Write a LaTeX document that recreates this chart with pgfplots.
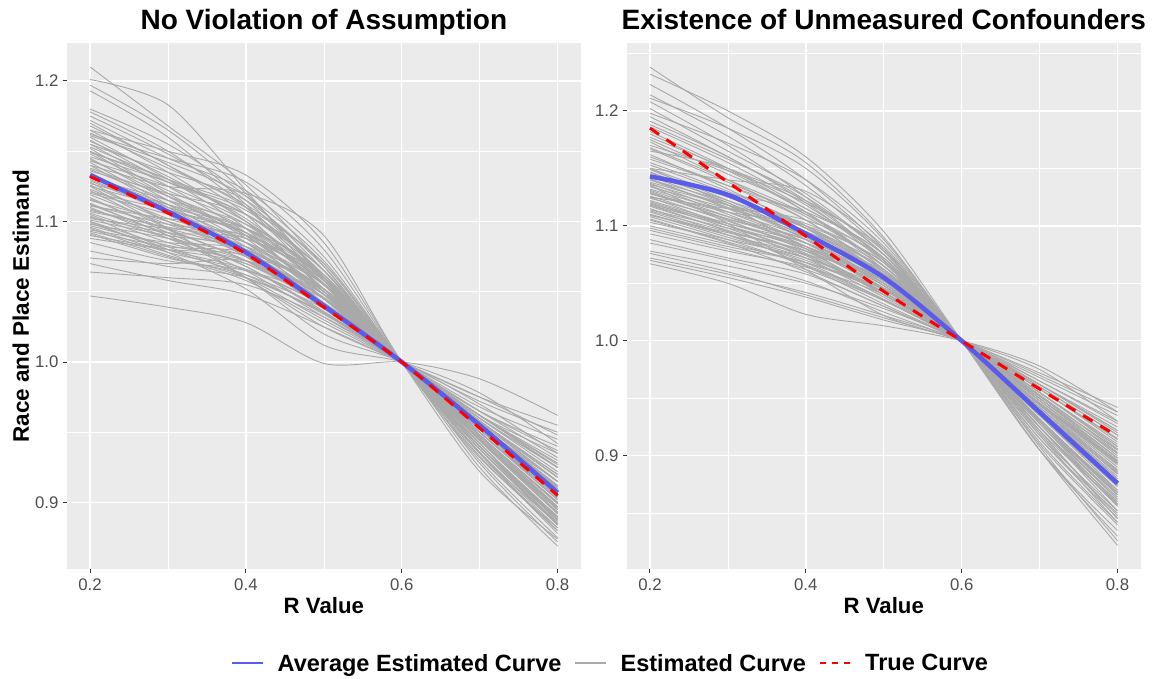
\documentclass[border=0pt]{standalone}
\usepackage{pgfplots}
\pgfplotsset{compat=1.18}
\usepackage{fontspec}
\setmainfont{Liberation Sans}

\definecolor{panelbg}{HTML}{EBEBEB}
\definecolor{estgrey}{HTML}{A9A9A9}
\definecolor{avgblue}{RGB}{90,90,235}
\definecolor{tickgrey}{HTML}{4D4D4D}
\definecolor{tickmark}{HTML}{333333}

% one estimated curve: values at R = 0.2,0.3,0.4,0.5,(0.6 -> 1),0.7,0.8
\newcommand{\est}[6]{\addplot[estc] coordinates {(0.2,#1) (0.3,#2) (0.4,#3) (0.5,#4) (0.6,1) (0.7,#5) (0.8,#6)};}

\pgfplotsset{
  estc/.style={estgrey, line width=0.9pt, smooth, no markers, forget plot},
  avgc/.style={avgblue, line width=4.5pt, smooth, no markers, forget plot},
  truec/.style={red, line width=3pt, dash pattern=on 11pt off 9pt, smooth, no markers, forget plot},
  gg/.style={
    scale only axis, width=514.3pt, height=526pt,
    xmin=0.17, xmax=0.83,
    axis background/.style={fill=panelbg},
    axis line style={draw=none},
    xtick={0.2,0.4,0.6,0.8}, minor xtick={0.3,0.5,0.7},
    grid=both,
    major grid style={white, line width=1.4pt},
    minor grid style={white, line width=0.7pt},
    tick align=outside, tick pos=left,
    major tick length=4pt, minor tick length=0pt,
    every tick/.style={tickmark, line width=1pt},
    tick label style={font=\fontsize{16.8}{18}\selectfont, text=tickgrey, inner sep=0pt},
    xticklabel style={yshift=-5pt},
    yticklabel style={xshift=-4pt},
    xticklabel={\pgfmathprintnumber[fixed, fixed zerofill, precision=1]{\tick}},
    yticklabel={\pgfmathprintnumber[fixed, fixed zerofill, precision=1]{\tick}},
    /pgf/number format/assume math mode=true,
    title style={font=\bfseries\fontsize{28}{30}\selectfont, at={(0.5,1)}, anchor=base, yshift=7.3pt},
    xlabel={R Value},
    xlabel style={font=\bfseries\fontsize{22.2}{24}\selectfont, at={(axis description cs:0.5,0)}, anchor=base, yshift=-44pt},
  }
}

\begin{document}
\begin{tikzpicture}
\useasboundingbox (0,0) rectangle (1153pt,679pt);

% ---------------- left panel ----------------
\begin{axis}[gg, at={(66.7pt,109.7pt)}, anchor=south west,
  ymin=0.8525, ymax=1.2268,
  ytick={0.9,1.0,1.1,1.2}, minor ytick={0.95,1.05,1.15},
  title={No Violation of Assumption},
  ylabel={Race and Place Estimand},
  ylabel style={font=\bfseries\fontsize{22.5}{24}\selectfont, at={(axis description cs:0,0.5)}, anchor=base, yshift=37.7pt},
  legend columns=3,
  legend cell align=left,
  legend image code/.code={\draw[line width=1.6pt, #1] (0pt,0pt) -- (31pt,0pt);},
  legend style={at={(axis description cs:0.3206,-0.1787)}, anchor=west, draw=none, fill=none,
    inner sep=0pt, outer sep=0pt,
    font=\bfseries\fontsize{23.5}{25}\selectfont,
    nodes={inner sep=0pt},
    /tikz/every odd column/.append style={column sep=13.5pt},
    /tikz/every even column/.append style={column sep=13pt}},
]
\addlegendimage{draw=avgblue}
\addlegendentry{Average Estimated Curve}
\addlegendimage{draw=estgrey}
\addlegendentry{Estimated Curve}
\addlegendimage{draw=red, dash pattern=on 6.5pt off 5.5pt}
\addlegendentry{True Curve}

\est{1.210}{1.168}{1.126}{1.068}{0.945}{0.895}
\est{1.201}{1.183}{1.122}{1.058}{0.950}{0.905}
\est{1.197}{1.165}{1.120}{1.060}{0.948}{0.900}
\est{1.193}{1.160}{1.112}{1.058}{0.952}{0.910}
\est{1.180}{1.155}{1.118}{1.065}{0.940}{0.885}
\est{1.178}{1.150}{1.110}{1.055}{0.955}{0.915}
\est{1.172}{1.145}{1.122}{1.075}{0.935}{0.880}
\est{1.168}{1.140}{1.105}{1.050}{0.960}{0.925}
\est{1.165}{1.135}{1.100}{1.060}{0.945}{0.893}
\est{1.162}{1.145}{1.128}{1.080}{0.930}{0.875}
\est{1.160}{1.130}{1.095}{1.045}{0.962}{0.930}
\est{1.158}{1.128}{1.105}{1.065}{0.940}{0.890}
\est{1.155}{1.125}{1.092}{1.048}{0.955}{0.910}
\est{1.153}{1.130}{1.110}{1.070}{0.935}{0.885}
\est{1.150}{1.118}{1.088}{1.045}{0.958}{0.920}
\est{1.148}{1.122}{1.098}{1.055}{0.950}{0.905}
\est{1.145}{1.115}{1.085}{1.042}{0.962}{0.935}
\est{1.143}{1.125}{1.100}{1.060}{0.945}{0.897}
\est{1.140}{1.110}{1.080}{1.040}{0.955}{0.915}
\est{1.138}{1.118}{1.095}{1.052}{0.948}{0.900}
\est{1.135}{1.105}{1.075}{1.038}{0.965}{0.940}
\est{1.132}{1.112}{1.090}{1.050}{0.952}{0.908}
\est{1.128}{1.100}{1.078}{1.045}{0.950}{0.903}
\est{1.125}{1.110}{1.095}{1.060}{0.940}{0.888}
\est{1.122}{1.095}{1.072}{1.040}{0.958}{0.918}
\est{1.120}{1.105}{1.085}{1.052}{0.945}{0.893}
\est{1.117}{1.092}{1.068}{1.035}{0.962}{0.928}
\est{1.115}{1.100}{1.082}{1.048}{0.948}{0.899}
\est{1.112}{1.098}{1.090}{1.060}{0.938}{0.886}
\est{1.110}{1.088}{1.065}{1.032}{0.965}{0.937}
\est{1.108}{1.095}{1.078}{1.045}{0.952}{0.906}
\est{1.105}{1.085}{1.070}{1.040}{0.957}{0.915}
\est{1.103}{1.092}{1.088}{1.058}{0.935}{0.878}
\est{1.100}{1.082}{1.060}{1.030}{0.968}{0.945}
\est{1.098}{1.088}{1.075}{1.045}{0.950}{0.902}
\est{1.096}{1.078}{1.065}{1.040}{0.955}{0.911}
\est{1.094}{1.085}{1.080}{1.050}{0.942}{0.890}
\est{1.092}{1.075}{1.058}{1.028}{0.972}{0.950}
\est{1.090}{1.080}{1.070}{1.042}{0.948}{0.897}
\est{1.079}{1.068}{1.060}{1.035}{0.960}{0.922}
\est{1.074}{1.070}{1.072}{1.048}{0.945}{0.892}
\est{1.070}{1.058}{1.048}{1.025}{0.975}{0.955}
\est{1.064}{1.060}{1.055}{1.032}{0.962}{0.925}
\est{1.047}{1.039}{1.028}{0.999}{0.988}{0.962}
\est{1.150}{1.128}{1.108}{1.065}{0.925}{0.869}
\est{1.130}{1.108}{1.092}{1.058}{0.928}{0.872}
\est{1.165}{1.150}{1.133}{1.085}{0.922}{0.874}
\est{1.140}{1.125}{1.120}{1.090}{0.932}{0.882}
\est{1.085}{1.072}{1.065}{1.045}{0.958}{0.918}
\est{1.100}{1.078}{1.052}{1.012}{0.978}{0.942}
\est{1.112}{1.090}{1.060}{1.020}{0.970}{0.935}
\est{1.125}{1.095}{1.060}{1.025}{0.975}{0.948}
\est{1.170}{1.140}{1.110}{1.062}{0.945}{0.895}
\est{1.163}{1.138}{1.112}{1.070}{0.938}{0.884}
\est{1.157}{1.132}{1.100}{1.052}{0.952}{0.908}
\est{1.152}{1.120}{1.090}{1.048}{0.955}{0.912}
\est{1.146}{1.128}{1.105}{1.062}{0.940}{0.888}
\est{1.142}{1.112}{1.082}{1.045}{0.958}{0.920}
\est{1.137}{1.115}{1.092}{1.055}{0.945}{0.896}
\est{1.133}{1.110}{1.085}{1.048}{0.952}{0.905}
\est{1.129}{1.106}{1.080}{1.042}{0.956}{0.912}
\est{1.126}{1.102}{1.088}{1.058}{0.942}{0.889}
\est{1.123}{1.100}{1.075}{1.038}{0.960}{0.925}
\est{1.119}{1.098}{1.080}{1.050}{0.946}{0.897}
\est{1.116}{1.094}{1.072}{1.040}{0.958}{0.918}
\est{1.113}{1.090}{1.068}{1.036}{0.962}{0.927}
\est{1.109}{1.092}{1.080}{1.052}{0.944}{0.892}
\est{1.106}{1.088}{1.072}{1.042}{0.952}{0.904}
\est{1.104}{1.080}{1.062}{1.034}{0.965}{0.932}
\est{1.101}{1.090}{1.082}{1.055}{0.940}{0.884}
\est{1.099}{1.080}{1.066}{1.040}{0.955}{0.910}
\est{1.097}{1.083}{1.072}{1.046}{0.948}{0.900}
\est{1.095}{1.076}{1.060}{1.035}{0.962}{0.925}
\est{1.093}{1.082}{1.078}{1.052}{0.942}{0.888}
\est{1.091}{1.074}{1.062}{1.038}{0.958}{0.915}
\est{1.175}{1.148}{1.115}{1.060}{0.950}{0.905}
\est{1.161}{1.142}{1.118}{1.072}{0.933}{0.880}
\est{1.155}{1.135}{1.115}{1.068}{0.940}{0.890}
\est{1.149}{1.130}{1.102}{1.058}{0.948}{0.900}
\est{1.144}{1.118}{1.090}{1.050}{0.955}{0.912}
\est{1.136}{1.120}{1.105}{1.065}{0.936}{0.882}
\est{1.131}{1.115}{1.098}{1.062}{0.944}{0.893}
\est{1.127}{1.112}{1.095}{1.056}{0.950}{0.902}
\est{1.121}{1.108}{1.092}{1.055}{0.947}{0.897}
\est{1.111}{1.102}{1.095}{1.062}{0.938}{0.885}
\est{1.107}{1.096}{1.085}{1.055}{0.945}{0.895}
\est{1.102}{1.095}{1.090}{1.060}{0.940}{0.887}
\est{1.088}{1.080}{1.076}{1.052}{0.950}{0.905}

\addplot[avgc] coordinates {(0.2,1.133) (0.3,1.107) (0.4,1.078) (0.5,1.040) (0.6,1.0) (0.7,0.955) (0.8,0.907)};
\addplot[truec] coordinates {(0.2,1.132) (0.3,1.106) (0.4,1.077) (0.5,1.039) (0.6,1.0) (0.7,0.953) (0.8,0.905)};
\end{axis}

% ---------------- right panel ----------------
\begin{axis}[gg, at={(626.6pt,109.7pt)}, anchor=south west,
  ymin=0.8012, ymax=1.2588,
  ytick={0.9,1.0,1.1,1.2}, minor ytick={0.85,0.95,1.05,1.15,1.25},
  title={Existence of Unmeasured Confounders},
]
\est{1.238}{1.194}{1.155}{1.090}{0.915}{0.850}
\est{1.232}{1.200}{1.160}{1.095}{0.905}{0.835}
\est{1.223}{1.185}{1.140}{1.080}{0.925}{0.860}
\est{1.214}{1.178}{1.135}{1.078}{0.918}{0.852}
\est{1.211}{1.185}{1.150}{1.088}{0.910}{0.840}
\est{1.208}{1.170}{1.125}{1.070}{0.930}{0.870}
\est{1.202}{1.165}{1.128}{1.075}{0.922}{0.858}
\est{1.198}{1.172}{1.140}{1.085}{0.905}{0.830}
\est{1.191}{1.160}{1.120}{1.068}{0.935}{0.878}
\est{1.186}{1.155}{1.118}{1.072}{0.928}{0.864}
\est{1.182}{1.150}{1.112}{1.062}{0.940}{0.885}
\est{1.177}{1.150}{1.122}{1.078}{0.915}{0.846}
\est{1.173}{1.140}{1.105}{1.060}{0.945}{0.892}
\est{1.170}{1.148}{1.120}{1.080}{0.912}{0.842}
\est{1.167}{1.138}{1.108}{1.065}{0.935}{0.873}
\est{1.160}{1.135}{1.105}{1.060}{0.940}{0.882}
\est{1.155}{1.130}{1.100}{1.058}{0.942}{0.888}
\est{1.150}{1.125}{1.098}{1.062}{0.932}{0.868}
\est{1.147}{1.120}{1.090}{1.050}{0.950}{0.902}
\est{1.144}{1.122}{1.098}{1.065}{0.925}{0.856}
\est{1.141}{1.115}{1.085}{1.048}{0.948}{0.898}
\est{1.138}{1.118}{1.095}{1.058}{0.938}{0.876}
\est{1.135}{1.110}{1.082}{1.045}{0.952}{0.905}
\est{1.132}{1.112}{1.090}{1.060}{0.930}{0.862}
\est{1.130}{1.105}{1.078}{1.042}{0.955}{0.910}
\est{1.128}{1.108}{1.088}{1.055}{0.940}{0.880}
\est{1.125}{1.100}{1.075}{1.040}{0.958}{0.915}
\est{1.122}{1.102}{1.082}{1.050}{0.944}{0.890}
\est{1.120}{1.098}{1.072}{1.038}{0.962}{0.922}
\est{1.118}{1.100}{1.080}{1.052}{0.935}{0.870}
\est{1.115}{1.092}{1.068}{1.036}{0.965}{0.930}
\est{1.113}{1.095}{1.078}{1.048}{0.946}{0.894}
\est{1.110}{1.090}{1.070}{1.042}{0.952}{0.900}
\est{1.108}{1.088}{1.065}{1.035}{0.958}{0.912}
\est{1.096}{1.080}{1.062}{1.035}{0.955}{0.906}
\est{1.088}{1.072}{1.058}{1.030}{0.968}{0.935}
\est{1.085}{1.070}{1.052}{1.025}{0.972}{0.942}
\est{1.078}{1.065}{1.050}{1.028}{0.960}{0.918}
\est{1.076}{1.060}{1.040}{1.020}{0.975}{0.930}
\est{1.072}{1.058}{1.042}{1.022}{0.962}{0.925}
\est{1.070}{1.055}{1.038}{1.018}{0.965}{0.928}
\est{1.067}{1.050}{1.023}{1.013}{0.978}{0.938}
\est{1.150}{1.140}{1.130}{1.082}{0.905}{0.822}
\est{1.165}{1.150}{1.115}{1.075}{0.908}{0.826}
\est{1.125}{1.115}{1.105}{1.072}{0.920}{0.848}
\est{1.140}{1.120}{1.088}{1.048}{0.945}{0.895}
\est{1.105}{1.085}{1.060}{1.030}{0.962}{0.920}
\est{1.098}{1.082}{1.068}{1.045}{0.942}{0.884}
\est{1.135}{1.102}{1.062}{1.022}{0.970}{0.938}
\est{1.110}{1.092}{1.075}{1.055}{0.930}{0.866}
\est{1.195}{1.160}{1.122}{1.070}{0.930}{0.868}
\est{1.188}{1.158}{1.125}{1.075}{0.925}{0.860}
\est{1.180}{1.148}{1.112}{1.065}{0.935}{0.875}
\est{1.175}{1.145}{1.115}{1.072}{0.928}{0.862}
\est{1.168}{1.140}{1.110}{1.065}{0.932}{0.868}
\est{1.162}{1.132}{1.098}{1.055}{0.942}{0.886}
\est{1.158}{1.135}{1.110}{1.070}{0.925}{0.857}
\est{1.153}{1.128}{1.098}{1.058}{0.938}{0.878}
\est{1.149}{1.122}{1.092}{1.052}{0.945}{0.893}
\est{1.146}{1.125}{1.100}{1.062}{0.930}{0.866}
\est{1.143}{1.118}{1.088}{1.050}{0.946}{0.896}
\est{1.140}{1.116}{1.092}{1.058}{0.936}{0.874}
\est{1.137}{1.112}{1.085}{1.048}{0.950}{0.902}
\est{1.134}{1.115}{1.095}{1.062}{0.928}{0.858}
\est{1.131}{1.108}{1.082}{1.046}{0.952}{0.905}
\est{1.129}{1.106}{1.085}{1.052}{0.942}{0.884}
\est{1.126}{1.104}{1.080}{1.045}{0.948}{0.896}
\est{1.124}{1.106}{1.088}{1.058}{0.932}{0.866}
\est{1.121}{1.100}{1.076}{1.042}{0.955}{0.908}
\est{1.119}{1.102}{1.085}{1.055}{0.938}{0.876}
\est{1.117}{1.096}{1.074}{1.040}{0.958}{0.914}
\est{1.114}{1.098}{1.082}{1.052}{0.940}{0.880}
\est{1.112}{1.092}{1.072}{1.044}{0.950}{0.898}
\est{1.109}{1.094}{1.078}{1.050}{0.944}{0.887}
\est{1.106}{1.086}{1.066}{1.036}{0.960}{0.918}
\est{1.103}{1.088}{1.072}{1.046}{0.948}{0.894}
\est{1.100}{1.084}{1.068}{1.042}{0.953}{0.903}
\est{1.093}{1.078}{1.064}{1.040}{0.950}{0.898}
\est{1.128}{1.112}{1.100}{1.068}{0.922}{0.845}
\est{1.136}{1.118}{1.102}{1.068}{0.925}{0.852}
\est{1.142}{1.128}{1.112}{1.075}{0.918}{0.842}
\est{1.118}{1.095}{1.065}{1.032}{0.962}{0.922}
\est{1.150}{1.118}{1.080}{1.040}{0.955}{0.908}

\addplot[avgc] coordinates {(0.2,1.143) (0.3,1.127) (0.4,1.093) (0.5,1.055) (0.6,1.0) (0.7,0.938) (0.8,0.876)};
\addplot[truec] coordinates {(0.2,1.185) (0.3,1.138) (0.4,1.091) (0.5,1.043) (0.6,1.0) (0.7,0.958) (0.8,0.917)};
\end{axis}
\end{tikzpicture}
\end{document}
